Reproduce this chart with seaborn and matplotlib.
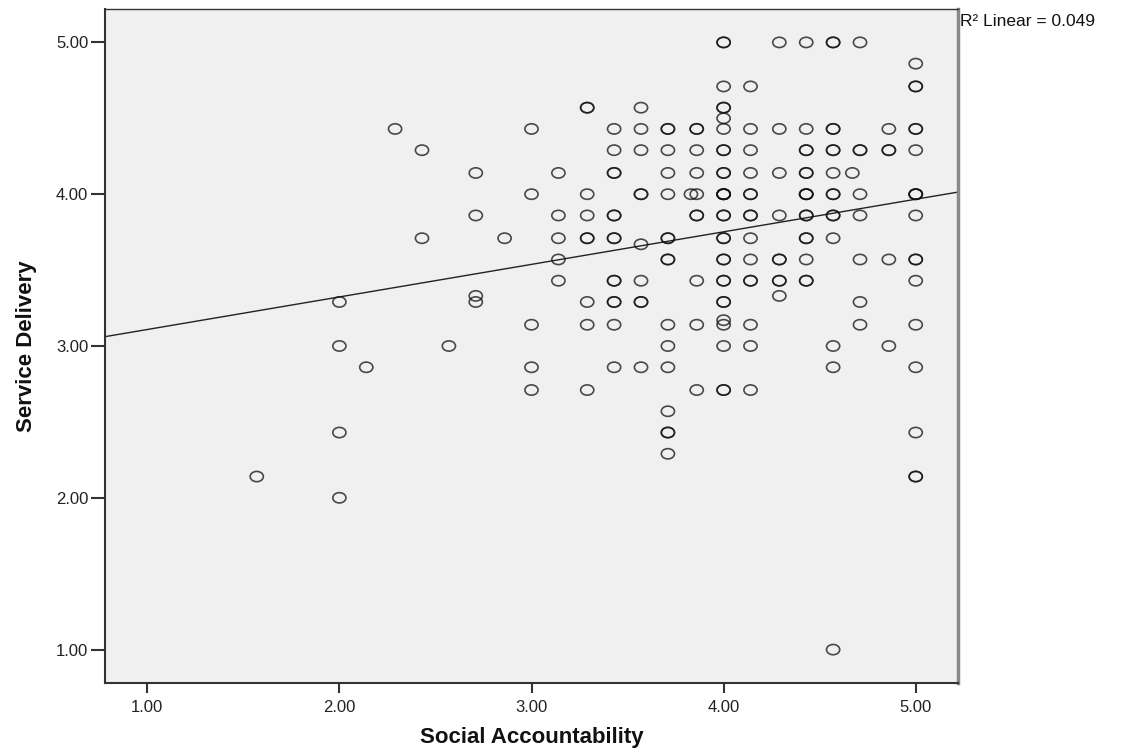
import numpy as np
import pandas as pd
import seaborn as sns
import matplotlib.pyplot as plt
from matplotlib.path import Path
from matplotlib.transforms import Affine2D

# Social Accountability levels (x) and the Service Delivery scores seen at each level (y)
sa_levels = [1.57, 2.00, 2.14, 2.29, 2.43, 2.57, 2.71, 2.86, 3.00, 3.14, 3.29, 3.43,
             3.57, 3.71, 3.83, 3.86, 4.00, 4.14, 4.29, 4.43, 4.57, 4.67, 4.71, 4.86, 5.00]
sd_at_level = [
    [2.14],
    [3.29, 3.00, 2.43, 2.00],
    [2.86],
    [4.43],
    [4.29, 3.71],
    [3.00],
    [4.14, 3.86, 3.33, 3.29],
    [3.71],
    [4.43, 4.00, 3.14, 2.86, 2.71],
    [4.14, 3.86, 3.71, 3.57, 3.43],
    [4.57, 4.57, 4.00, 3.86, 3.71, 3.71, 3.29, 3.14, 2.71],
    [4.43, 4.29, 4.14, 4.14, 3.86, 3.86, 3.71, 3.71, 3.43, 3.43, 3.29, 3.29, 3.14, 2.86],
    [4.57, 4.43, 4.29, 4.00, 4.00, 3.67, 3.43, 3.29, 3.29, 2.86],
    [4.43, 4.43, 4.29, 4.14, 4.00, 3.71, 3.71, 3.57, 3.57, 3.14, 3.00, 2.86, 2.57, 2.43, 2.43, 2.29],
    [4.00],
    [4.43, 4.43, 4.29, 4.14, 4.00, 3.86, 3.86, 3.43, 3.14, 2.71],
    [5.00, 5.00, 4.71, 4.57, 4.57, 4.50, 4.43, 4.29, 4.29, 4.14, 4.14, 4.00, 4.00, 4.00, 4.00,
     3.86, 3.86, 3.71, 3.71, 3.57, 3.57, 3.43, 3.43, 3.29, 3.29, 3.17, 3.14, 3.00, 2.71, 2.71],
    [4.71, 4.43, 4.29, 4.14, 4.00, 4.00, 3.86, 3.86, 3.71, 3.57, 3.43, 3.43, 3.14, 3.00, 2.71],
    [5.00, 4.43, 4.14, 3.86, 3.57, 3.57, 3.43, 3.43, 3.33],
    [5.00, 4.43, 4.29, 4.29, 4.14, 4.14, 4.00, 4.00, 4.00, 3.86, 3.86, 3.71, 3.71, 3.57, 3.43, 3.43],
    [5.00, 5.00, 4.43, 4.43, 4.29, 4.29, 4.14, 4.00, 4.00, 3.86, 3.86, 3.71, 3.00, 2.86, 1.00],
    [4.14],
    [5.00, 4.29, 4.29, 4.00, 3.86, 3.57, 3.29, 3.14],
    [4.43, 4.29, 4.29, 3.57, 3.00],
    [4.86, 4.71, 4.71, 4.43, 4.43, 4.29, 4.00, 4.00, 4.00, 3.86, 3.57, 3.57, 3.43, 3.14,
     2.86, 2.43, 2.14, 2.14],
]
tick_values = [1.00, 2.00, 3.00, 4.00, 5.00]
r2_label = "R\u00b2 Linear = 0.049"

rows = [(x, y) for x, ys in zip(sa_levels, sd_at_level) for y in ys]
df = pd.DataFrame(rows, columns=["Social Accountability", "Service Delivery"])

sns.set_theme(style="ticks")
plt.rcParams["font.family"] = ["Liberation Sans", "DejaVu Sans"]

fig = plt.figure(figsize=(11.22, 7.55), dpi=100)
ax = fig.add_axes([105 / 1122, 1 - 683 / 755, 853 / 1122, 674 / 755])
ax.set_facecolor("#f0f0f0")
ax.set_xlim(0.78, 5.22)
ax.set_ylim(0.78, 5.22)

# slightly wide open ellipse, like the SPSS marker
ring = Path.unit_circle().transformed(Affine2D().scale(1.0, 0.78))
sns.scatterplot(data=df, x="Social Accountability", y="Service Delivery", ax=ax,
                marker=ring, s=90, color="none", edgecolor="#111111",
                linewidth=1.2, alpha=0.75, zorder=3)
sns.regplot(data=df, x="Social Accountability", y="Service Delivery", ax=ax,
            scatter=False, ci=None, truncate=False,
            line_kws=dict(color="#222222", lw=1.0, zorder=2))

ax.set_xlim(0.78, 5.22)
ax.set_ylim(0.78, 5.22)
ax.set_xticks(tick_values)
ax.set_yticks(tick_values)
ax.set_xticklabels([f"{v:.2f}" for v in tick_values])
ax.set_yticklabels([f"{v:.2f}" for v in tick_values])
ax.tick_params(axis="x", direction="out", length=7, width=1.5, color="#333333",
               labelsize=12, labelcolor="#222222", pad=5)
ax.tick_params(axis="y", direction="out", length=10, width=1.5, color="#333333",
               labelsize=12, labelcolor="#222222", pad=2)

for side in ["left", "bottom", "top"]:
    ax.spines[side].set_color("#333333")
    ax.spines[side].set_linewidth(1.5)
ax.spines["top"].set_linewidth(1.0)
ax.spines["right"].set_color("#8a8a8a")
ax.spines["right"].set_linewidth(2.5)

ax.set_xlabel("Social Accountability", fontsize=16, fontweight="bold",
              color="#111111", labelpad=9)
ax.set_ylabel("Service Delivery", fontsize=16, fontweight="bold",
              color="#111111", labelpad=14)

fig.text(960 / 1122, 1 - 22 / 755, r2_label, fontsize=12.5, color="#111111",
         ha="left", va="center")

fig.savefig("out.png", dpi=100)
